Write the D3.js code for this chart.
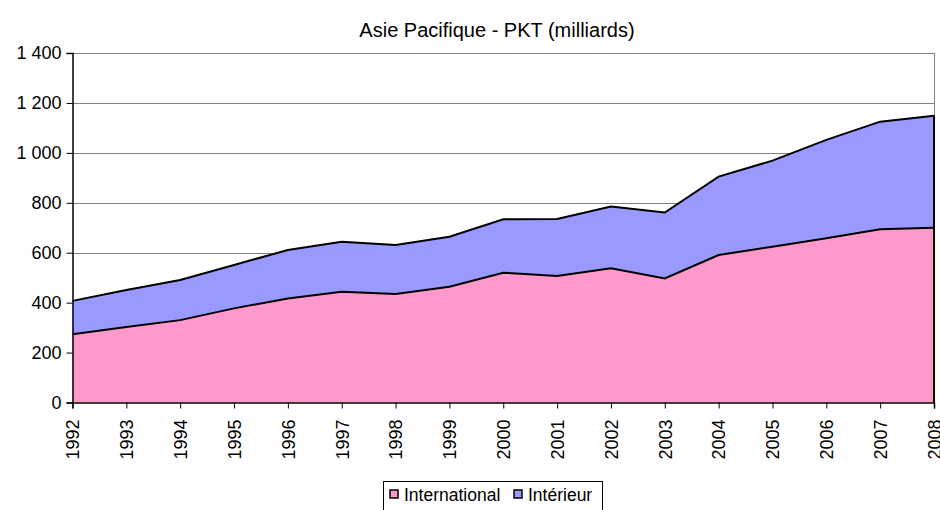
<!DOCTYPE html>
<html>
<head>
<meta charset="utf-8">
<script src="https://cdn.jsdelivr.net/npm/d3@7"></script>
<style>
  body { margin: 0; background: #fff; }
  svg text { font-family: "Liberation Sans", Arial, sans-serif; fill: #000; }
</style>
</head>
<body>
<div id="chart"></div>
<script>
const years = [1992, 1993, 1994, 1995, 1996, 1997, 1998, 1999, 2000, 2001, 2002, 2003, 2004, 2005, 2006, 2007, 2008];
const international = [273, 302, 330, 377, 417, 444, 435, 464, 520, 507, 538, 497, 591, 624, 658, 694, 700];
const interieur = [134, 149, 161, 174, 194, 200, 196, 200, 214, 228, 247, 264, 314, 345, 394, 431, 449];
const seriesNames = ["International", "Intérieur"];
const yTicks = [0, 200, 400, 600, 800, 1000, 1200, 1400];

const width = 940, height = 510;
const colors = ["#FF99CC", "#9999FF"];
const margin = { left: 72.5, right: 6, top: 53, bottom: 107.5 };

const svg = d3.select("#chart").append("svg")
  .attr("width", width)
  .attr("height", height);

const x = d3.scaleLinear()
  .domain([years[0], years[years.length - 1]])
  .range([margin.left, width - margin.right]);
const y = d3.scaleLinear()
  .domain([0, 1400])
  .range([height - margin.bottom, margin.top]);

// title
svg.append("text")
  .attr("x", 497)
  .attr("y", 37)
  .attr("text-anchor", "middle")
  .style("font-size", "20px")
  .text("Asie Pacifique - PKT (milliards)");

// gridlines
svg.append("g")
  .selectAll("line")
  .data(yTicks.filter(d => d > 0))
  .join("line")
  .attr("x1", x.range()[0])
  .attr("x2", x.range()[1])
  .attr("y1", d => Math.round(y(d)) + 0.5)
  .attr("y2", d => Math.round(y(d)) + 0.5)
  .attr("stroke", "#808080")
  .attr("stroke-width", 1);

// right border of plot area
svg.append("line")
  .attr("x1", x.range()[1] + 0.5).attr("x2", x.range()[1] + 0.5)
  .attr("y1", y(1400)).attr("y2", y(0))
  .attr("stroke", "#808080");

const table = years.map((yr, i) => ({ year: yr, International: international[i], "Intérieur": interieur[i] }));
const stacked = d3.stack().keys(seriesNames)(table);

const area = d3.area()
  .x(d => x(d.data.year))
  .y0(d => y(d[0]))
  .y1(d => y(d[1]));
const topLine = d3.line()
  .x(d => x(d.data.year))
  .y(d => y(d[1]));

svg.append("g")
  .selectAll("path")
  .data(stacked)
  .join("path")
  .attr("d", area)
  .attr("fill", (d, i) => colors[i]);

svg.append("g")
  .selectAll("path")
  .data(stacked)
  .join("path")
  .attr("d", topLine)
  .attr("fill", "none")
  .attr("stroke", "#000")
  .attr("stroke-width", 2);

// right edge of area
svg.append("line")
  .attr("x1", x.range()[1]).attr("x2", x.range()[1])
  .attr("y1", y(0)).attr("y2", y(stacked[1][years.length - 1][1]))
  .attr("stroke", "#000").attr("stroke-width", 2);

// y axis
const yAxis = svg.append("g")
  .attr("transform", `translate(${margin.left},0)`)
  .call(d3.axisLeft(y).tickValues(yTicks).tickSize(6).tickPadding(5)
    .tickFormat(d => d3.format(",")(d).replace(",", " ")));
yAxis.select(".domain").attr("stroke", "#000").attr("stroke-width", 1.5);
yAxis.selectAll("text").style("font-size", "18px");

// x axis
const xAxis = svg.append("g")
  .attr("transform", `translate(0,${y(0)})`)
  .call(d3.axisBottom(x).tickValues(years).tickSize(6).tickFormat(d3.format("d")));
xAxis.select(".domain").attr("stroke", "#000").attr("stroke-width", 1.5);
xAxis.selectAll("text")
  .style("font-size", "18px")
  .attr("text-anchor", "end")
  .attr("transform", "rotate(-90)")
  .attr("x", -17)
  .attr("y", 0)
  .attr("dy", "0.35em");

// legend
const legend = svg.append("g");
legend.append("rect")
  .attr("x", 383.5).attr("y", 481.5)
  .attr("width", 219).attr("height", 34)
  .attr("fill", "#fff").attr("stroke", "#000");
const legendX = [390, 514];
seriesNames.forEach((name, i) => {
  legend.append("rect")
    .attr("x", legendX[i]).attr("y", 490)
    .attr("width", 8).attr("height", 8)
    .attr("fill", colors[i]).attr("stroke", "#000").attr("stroke-width", 1.5);
  legend.append("text")
    .attr("x", legendX[i] + 14).attr("y", 500.5)
    .style("font-size", "17.5px")
    .text(name);
});
</script>
</body>
</html>
